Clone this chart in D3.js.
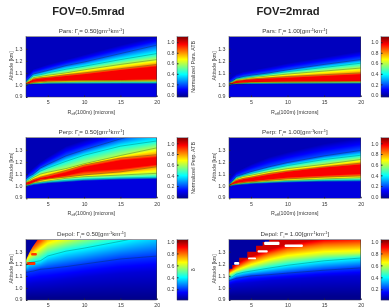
<!DOCTYPE html>
<html>
<head>
<meta charset="utf-8">
<script src="https://cdn.jsdelivr.net/npm/d3@7"></script>
<style>
  html, body { margin: 0; padding: 0; background: #fff; overflow: hidden; }
  #stage { position: relative; width: 389px; height: 308px; overflow: hidden; }
  canvas, svg { position: absolute; left: 0; top: 0; }
  text { font-family: "Liberation Sans", Arial, sans-serif; fill: #3a3a3a; }
</style>
</head>
<body>
<div id="stage"><canvas id="heat" width="389" height="308"></canvas><svg id="chart" width="389" height="308"></svg></div>
<script>
// Effective radius columns shared by every altitude table below.
const radii = [2, 2.5, 3, 4, 5, 7.5, 10, 15, 20];

// ATB level reached along each row of the Pars/Perp tables, bottom to top.
const atbLevels = [0.07, 0.2, 0.4, 0.6, 0.8, 0.97, 0.97, 0.8, 0.6, 0.4, 0.2, 0.02];
const atbContourRows = [1, 2, 3, 4, 7, 8, 9, 10];
const depolLevels = [0.02, 0.1, 0.2, 0.4, 0.6, 0.8, 0.95];
const depolContourRows = [2, 3];

// Altitude [km] of each level at each radius.
const parsThin = [
  [0.999, 1.002, 1.004, 1.005, 1.006, 1.006, 1.007, 1.007, 1.007],
  [1.002, 1.005, 1.007, 1.008, 1.010, 1.011, 1.011, 1.012, 1.012],
  [1.004, 1.008, 1.010, 1.012, 1.015, 1.017, 1.018, 1.019, 1.020],
  [1.006, 1.010, 1.014, 1.018, 1.022, 1.025, 1.027, 1.029, 1.030],
  [1.008, 1.012, 1.020, 1.025, 1.030, 1.033, 1.035, 1.037, 1.040],
  [1.010, 1.020, 1.030, 1.035, 1.040, 1.040, 1.045, 1.045, 1.050],
  [1.012, 1.025, 1.040, 1.050, 1.055, 1.070, 1.085, 1.120, 1.150],
  [1.015, 1.030, 1.050, 1.060, 1.065, 1.085, 1.100, 1.135, 1.170],
  [1.020, 1.040, 1.060, 1.070, 1.080, 1.100, 1.125, 1.170, 1.210],
  [1.025, 1.050, 1.075, 1.085, 1.100, 1.130, 1.155, 1.210, 1.260],
  [1.030, 1.060, 1.090, 1.105, 1.120, 1.160, 1.190, 1.260, 1.330],
  [1.070, 1.100, 1.130, 1.150, 1.170, 1.210, 1.250, 1.330, 1.400]
];
const parsThick = [
  [0.999, 1.001, 1.003, 1.004, 1.005, 1.006, 1.006, 1.007, 1.007],
  [1.002, 1.004, 1.006, 1.007, 1.008, 1.009, 1.010, 1.011, 1.012],
  [1.004, 1.006, 1.009, 1.011, 1.013, 1.014, 1.015, 1.016, 1.017],
  [1.005, 1.008, 1.011, 1.014, 1.017, 1.019, 1.020, 1.022, 1.024],
  [1.006, 1.010, 1.014, 1.018, 1.022, 1.024, 1.026, 1.028, 1.030],
  [1.008, 1.012, 1.020, 1.025, 1.028, 1.030, 1.032, 1.035, 1.035],
  [1.010, 1.016, 1.030, 1.036, 1.042, 1.050, 1.055, 1.070, 1.085],
  [1.012, 1.020, 1.035, 1.042, 1.050, 1.060, 1.070, 1.085, 1.100],
  [1.015, 1.025, 1.042, 1.050, 1.060, 1.075, 1.090, 1.115, 1.140],
  [1.018, 1.030, 1.050, 1.060, 1.070, 1.090, 1.110, 1.145, 1.180],
  [1.020, 1.035, 1.055, 1.070, 1.080, 1.100, 1.125, 1.170, 1.210],
  [1.040, 1.070, 1.090, 1.110, 1.120, 1.150, 1.180, 1.230, 1.280]
];
const perpThin = [
  [0.990, 0.998, 1.005, 1.012, 1.020, 1.030, 1.040, 1.050, 1.055],
  [1.000, 1.006, 1.012, 1.020, 1.027, 1.037, 1.048, 1.058, 1.063],
  [1.003, 1.010, 1.020, 1.028, 1.035, 1.048, 1.058, 1.068, 1.074],
  [1.006, 1.012, 1.025, 1.035, 1.043, 1.065, 1.078, 1.092, 1.106],
  [1.010, 1.016, 1.030, 1.047, 1.060, 1.075, 1.093, 1.118, 1.160],
  [1.015, 1.022, 1.035, 1.060, 1.065, 1.090, 1.125, 1.145, 1.180],
  [1.025, 1.034, 1.045, 1.065, 1.075, 1.110, 1.155, 1.210, 1.235],
  [1.030, 1.040, 1.055, 1.075, 1.090, 1.130, 1.175, 1.232, 1.260],
  [1.035, 1.050, 1.070, 1.100, 1.115, 1.145, 1.185, 1.253, 1.316],
  [1.045, 1.065, 1.085, 1.125, 1.150, 1.205, 1.255, 1.330, 1.373],
  [1.060, 1.085, 1.100, 1.150, 1.180, 1.250, 1.300, 1.390, 1.470],
  [1.090, 1.120, 1.150, 1.200, 1.240, 1.330, 1.380, 1.480, 1.560]
];
const perpThick = [
  [0.990, 0.998, 1.003, 1.008, 1.012, 1.020, 1.026, 1.033, 1.035],
  [1.001, 1.005, 1.010, 1.015, 1.020, 1.027, 1.033, 1.040, 1.042],
  [1.002, 1.008, 1.014, 1.020, 1.025, 1.032, 1.040, 1.048, 1.052],
  [1.003, 1.012, 1.018, 1.025, 1.030, 1.040, 1.048, 1.060, 1.070],
  [1.004, 1.015, 1.022, 1.030, 1.035, 1.048, 1.060, 1.075, 1.085],
  [1.005, 1.020, 1.030, 1.040, 1.045, 1.060, 1.075, 1.090, 1.105],
  [1.006, 1.025, 1.040, 1.055, 1.065, 1.090, 1.115, 1.150, 1.175],
  [1.008, 1.030, 1.050, 1.065, 1.075, 1.105, 1.125, 1.160, 1.190],
  [1.010, 1.035, 1.060, 1.080, 1.090, 1.120, 1.145, 1.180, 1.220],
  [1.012, 1.040, 1.070, 1.090, 1.105, 1.140, 1.170, 1.220, 1.255],
  [1.015, 1.045, 1.080, 1.100, 1.120, 1.160, 1.195, 1.250, 1.295],
  [1.050, 1.090, 1.120, 1.150, 1.180, 1.240, 1.280, 1.350, 1.400]
];
const depolThin = [
  [0.920, 0.920, 0.920, 0.920, 0.920, 0.920, 0.920, 0.920, 0.920],
  [1.030, 1.035, 1.040, 1.045, 1.050, 1.070, 1.090, 1.120, 1.140],
  [1.128, 1.135, 1.140, 1.155, 1.160, 1.177, 1.198, 1.240, 1.264],
  [1.180, 1.210, 1.215, 1.226, 1.265, 1.305, 1.330, 1.387, 1.450],
  [1.215, 1.250, 1.270, 1.310, 1.350, 1.390, 1.430, 1.500, 1.550],
  [1.250, 1.310, 1.330, 1.380, 1.430, 1.500, 1.550, 1.600, 1.650],
  [1.300, 1.360, 1.400, 1.450, 1.500, 1.600, 1.650, 1.700, 1.750]
];
const depolThick = [
  [0.930, 0.930, 0.930, 0.930, 0.930, 0.930, 0.930, 0.930, 0.930],
  [1.020, 1.030, 1.035, 1.040, 1.045, 1.060, 1.070, 1.090, 1.100],
  [1.060, 1.070, 1.080, 1.090, 1.100, 1.110, 1.123, 1.147, 1.166],
  [1.080, 1.095, 1.115, 1.130, 1.140, 1.165, 1.188, 1.225, 1.248],
  [1.110, 1.125, 1.140, 1.160, 1.180, 1.220, 1.250, 1.280, 1.290],
  [1.130, 1.150, 1.170, 1.200, 1.230, 1.280, 1.320, 1.360, 1.370],
  [1.150, 1.170, 1.200, 1.235, 1.260, 1.320, 1.360, 1.410, 1.430]
];

// Edge of the region with no depolarization retrieval, upper left of each depol panel.
const thinEdgeRadius = [2, 2.4, 2.9, 3.6];
const thinEdgeAltitude = [1.232, 1.286, 1.34, 1.4];
const thickEdgeRadius = [2, 2.45, 3.4, 4.5, 5.7, 6.6, 7.5];
const thickEdgeAltitude = [1.16, 1.19, 1.25, 1.3, 1.35, 1.38, 1.4];

// Isolated cells: radius from, radius to, altitude from, altitude to, value (null = no data).
const thinCells = [[2.1, 3.3, 1.19, 1.215, 0.85], [2.7, 3.5, 1.27, 1.29, 0.85]];
const thickCells = [
  [6.8, 8.9, 1.357, 1.384, null], [9.6, 12.1, 1.34, 1.36, null], [5.9, 7.3, 1.294, 1.313, null],
  [4.6, 5.7, 1.237, 1.253, null], [2.7, 3.4, 1.193, 1.215, null]
];

const radiusTicks = [5, 10, 15, 20];
const altitudeTicks = [0.9, 1.0, 1.1, 1.2, 1.3];
const atbBarTicks = [0, 0.2, 0.4, 0.6, 0.8, 1.0];
const depolBarTicks = [0.2, 0.4, 0.6, 0.8, 1.0];

const columns = [
  { heading: "FOV=0.5mrad", headingX: 88.5, left: 26, right: 156.7, barX: 177 },
  { heading: "FOV=2mrad", headingX: 288, left: 229, right: 360.7, barX: 381 }
];
const rows = [
  { name: "Pars", top: 36.7, bottom: 97, range: [-0.04, 1.105], bar: "Normalized Para. ATB", levels: atbLevels, contourRows: atbContourRows, ticks: atbBarTicks, tables: [parsThin, parsThick], showRadiusLabel: true },
  { name: "Perp", top: 137.7, bottom: 198.3, range: [-0.03, 1.105], bar: "Normalized Perp. ATB", levels: atbLevels, contourRows: atbContourRows, ticks: atbBarTicks, tables: [perpThin, perpThick], showRadiusLabel: true },
  { name: "Depol", top: 239.7, bottom: 300, range: [0.02, 1.03], bar: "δ", levels: depolLevels, contourRows: depolContourRows, ticks: depolBarTicks, tables: [depolThin, depolThick], showRadiusLabel: false }
];
const gammas = ["0.50", "1.00"];

const jet = d3.scaleLinear()
  .domain([0, 0.125, 0.375, 0.625, 0.875, 1])
  .range(["#00008f", "#0000ff", "#00ffff", "#ffff00", "#ff0000", "#800000"])
  .clamp(true);

const svg = d3.select("#chart");
const ctx = document.getElementById("heat").getContext("2d");

svg.selectAll("text.heading").data(columns).join("text")
  .attr("class", "heading")
  .attr("x", d => d.headingX).attr("y", 15)
  .attr("text-anchor", "middle")
  .style("font-size", "11.2px").style("font-weight", "bold").style("fill", "#222")
  .text(d => d.heading);

function drawTitle(g, cx, y, name, gamma) {
  const t = g.append("text").attr("x", cx).attr("y", y).attr("text-anchor", "middle").style("font-size", "6.2px");
  t.append("tspan").text(name + ": Γ");
  t.append("tspan").attr("dy", 1.2).style("font-size", "4px").text("i");
  t.append("tspan").attr("dy", -1.2).text("= " + gamma + "[gm");
  t.append("tspan").attr("dy", -2).style("font-size", "4px").text("-1");
  t.append("tspan").attr("dy", 2).text("km");
  t.append("tspan").attr("dy", -2).style("font-size", "4px").text("-1");
  t.append("tspan").attr("dy", 2).text("]");
}

rows.forEach(row => {
  columns.forEach((col, c) => {
    const table = row.tables[c];
    const x = d3.scaleLinear().domain([2, 20]).range([col.left, col.right]);
    const y = d3.scaleLinear().domain([0.9, 1.4]).range([row.bottom, row.top]);
    const norm = d3.scaleLinear().domain(row.range).range([0, 1]);

    // Heat field, one device pixel at a time.
    for (let px = Math.round(col.left); px < Math.round(col.right); px++) {
      const r = x.invert(px + 0.5);
      const altitudes = table.map(line => d3.scaleLinear().domain(radii).range(line)(r));
      const profile = d3.scaleLinear().domain(altitudes).range(row.levels).clamp(true);
      for (let py = Math.round(row.top); py < Math.round(row.bottom); py++) {
        ctx.fillStyle = jet(norm(profile(y.invert(py + 0.5))));
        ctx.fillRect(px, py, 1, 1);
      }
    }

    const g = svg.append("g");
    const clipId = "clip-" + row.name + c;
    g.append("clipPath").attr("id", clipId).append("rect")
      .attr("x", col.left).attr("y", row.top)
      .attr("width", col.right - col.left).attr("height", row.bottom - row.top);
    const plot = g.append("g").attr("clip-path", "url(#" + clipId + ")");

    if (row.name === "Depol") {
      const edgeR = c === 0 ? thinEdgeRadius : thickEdgeRadius;
      const edgeA = c === 0 ? thinEdgeAltitude : thickEdgeAltitude;
      const area = d3.area()
        .x((d, i) => x(edgeR[i]))
        .y0(y(1.4))
        .y1((d, i) => y(edgeA[i]))
        .curve(c === 0 ? d3.curveLinear : d3.curveStepAfter);
      plot.append("path").attr("d", area(edgeA)).attr("fill", jet(0.02));
      plot.selectAll("rect.cell").data(c === 0 ? thinCells : thickCells).join("rect")
        .attr("class", "cell")
        .attr("x", d => x(d[0])).attr("width", d => x(d[1]) - x(d[0]))
        .attr("y", d => y(d[3])).attr("height", d => y(d[2]) - y(d[3]))
        .attr("rx", 1)
        .attr("fill", d => d[4] === null ? "#fff" : jet(norm(d[4])));
    }

    // Contour lines follow the table rows that sit on a contour level.
    const line = d3.line().x((d, i) => x(radii[i])).y(d => y(d));
    plot.selectAll("path.contour").data(row.contourRows.map(i => table[i])).join("path")
      .attr("class", "contour")
      .attr("d", line).attr("fill", "none")
      .attr("stroke", "#0d2a1a").attr("stroke-width", 0.5).attr("stroke-opacity", 0.6);

    // Axes.
    const xAxis = d3.axisBottom(x).tickValues(radiusTicks).tickSizeInner(-1.5).tickSizeOuter(0).tickPadding(3.5).tickFormat(d3.format("d"));
    const yAxis = d3.axisLeft(y).tickValues(altitudeTicks).tickSizeInner(-1.5).tickSizeOuter(0).tickPadding(3.5).tickFormat(d3.format(".1f"));
    const ax = g.append("g").attr("transform", "translate(0," + row.bottom + ")").call(xAxis);
    const ay = g.append("g").attr("transform", "translate(" + col.left + ",0)").call(yAxis);
    [ax, ay].forEach(a => {
      a.select(".domain").remove();
      a.selectAll("line").attr("stroke", "#223");
      a.selectAll("text").style("font-size", "5.3px").style("fill", "#3a3a3a");
    });
    ax.selectAll("text").attr("dy", "0.71em");
    // The lowest altitude label sits slightly above its tick.
    ay.selectAll(".tick text").filter(d => d === 0.9).attr("y", -1.5);
    g.append("rect")
      .attr("x", col.left).attr("y", row.top)
      .attr("width", col.right - col.left).attr("height", row.bottom - row.top)
      .attr("fill", "none").attr("stroke", "#334").attr("stroke-width", 0.5);

    drawTitle(g, (col.left + col.right) / 2, row.top - 3.4, row.name, gammas[c]);

    g.append("text")
      .attr("transform", "translate(" + (col.left - 13.5) + "," + ((row.top + row.bottom) / 2 - 1) + ") rotate(-90)")
      .attr("text-anchor", "middle").style("font-size", "5.3px")
      .text("Altitude [km]");

    if (row.showRadiusLabel) {
      const label = g.append("text")
        .attr("x", (col.left + col.right) / 2).attr("y", row.bottom + 16.5)
        .attr("text-anchor", "middle").style("font-size", "5.3px");
      label.append("tspan").text("R");
      label.append("tspan").attr("dy", 1).style("font-size", "3.6px").text("eff");
      label.append("tspan").attr("dy", -1).text("(100m) [microns]");
    }

    // Colour bar with its ticks on the left.
    const bar = d3.scaleLinear().domain(row.range).range([row.bottom, row.top]);
    g.selectAll("rect.swatch").data(d3.range(Math.round(row.top), Math.round(row.bottom))).join("rect")
      .attr("class", "swatch")
      .attr("x", col.barX).attr("width", 11)
      .attr("y", d => d).attr("height", 1.2)
      .attr("fill", d => jet(norm(bar.invert(d + 0.5))));
    const barAxis = d3.axisLeft(bar).tickValues(row.ticks).tickSizeInner(-1.5).tickSizeOuter(0).tickPadding(2.5).tickFormat(d3.format(".1f"));
    const ab = g.append("g").attr("transform", "translate(" + col.barX + ",0)").call(barAxis);
    ab.select(".domain").remove();
    ab.selectAll("line").attr("stroke", "#223");
    ab.selectAll("text").style("font-size", "5.3px").style("fill", "#3a3a3a");
    g.append("rect")
      .attr("x", col.barX).attr("y", row.top).attr("width", 11).attr("height", row.bottom - row.top)
      .attr("fill", "none").attr("stroke", "#334").attr("stroke-width", 0.4);
    g.append("text")
      .attr("transform", "translate(" + (col.barX + 18) + "," + ((row.top + row.bottom) / 2) + ") rotate(-90)")
      .attr("text-anchor", "middle").style("font-size", "5.3px")
      .text(row.bar);
  });
});
</script>
</body>
</html>
